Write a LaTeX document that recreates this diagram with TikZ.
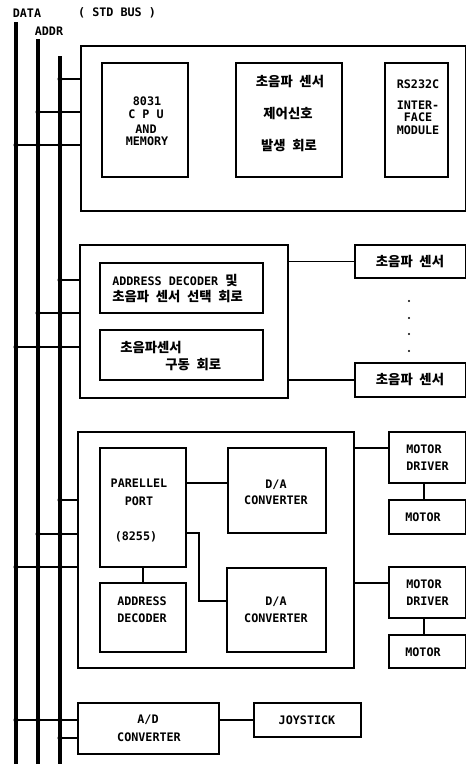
\documentclass[tikz,border=0pt]{standalone}
\usepackage{fontspec}
\setmainfont{DejaVu Sans Mono}
\newfontfamily\kr{Noto Sans CJK KR}[WordSpace=2.2]
\newcommand\Kor[1]{{\kr\bfseries\fontsize{10}{12}\selectfont #1}}
\begin{document}
\begin{tikzpicture}[x=0.75pt,y=-0.75pt,
  box/.style={draw,line width=0.8pt,inner sep=0pt,outer sep=0pt},
  lat/.style={font=\bfseries\fontsize{8.8}{10}\selectfont,inner sep=0pt},
  kor/.style={font=\kr\bfseries\fontsize{10}{12}\selectfont,inner sep=0pt},
  wire/.style={line width=0.8pt},
  tapw/.style={line width=1pt},
  bus/.style={line width=3pt},
  bus3/.style={line width=2.4pt}]
\useasboundingbox[fill=white] (0,0) rectangle (467,764);
\newcommand\mkbox[5]{\node[box,minimum width={(#4-#2)*0.75pt},minimum height={(#5-#3)*0.75pt}] (#1) at ({(#2+#4)/2},{(#3+#5)/2}) {};}

% header
\node[lat] (hdata) at (27,13) {DATA};
\node[lat] (hbus) at (117,13) {( STD BUS )};
\node[lat] (haddr) at (49,31) {ADDR};

% bus lines
\coordinate (dT) at (16,22);  \coordinate (dB) at (16,764);
\coordinate (aT) at (38,39);  \coordinate (aB) at (38,764);
\coordinate (cT) at (60,56);  \coordinate (cB) at (60,764);
\draw[bus] (dT) -- (dB);
\draw[bus] (aT) -- (aB);
\draw[bus3] (cT) -- (cB);

% block 1
\mkbox{b1}{81}{46}{465.5}{211}
\mkbox{cpu}{102}{63}{188}{177}
\mkbox{usc}{236}{63}{342}{177}
\mkbox{rs}{385}{63}{448}{177}
\node[lat] (t8031) at (147,101) {8031};
\node[lat] (tcpu) at (146,114) {C P U};
\node[lat] (tand) at (146,129.5) {AND};
\node[lat] (tmem) at (147,141.5) {MEMORY};
\node[kor] (tus1) at (290,82) {초음파 센서};
\node[kor] (tus2) at (288,114) {제어신호};
\node[kor] (tus3) at (289,146) {발생 회로};
\node[lat] (trs1) at (418,84) {RS232C};
\node[lat] (trs2) at (418,105.5) {INTER-};
\node[lat] (trs3) at (418,117.5) {FACE};
\node[lat] (trs4) at (418,130) {MODULE};

% block 2
\mkbox{b2}{80}{245}{288}{398}
\mkbox{adsel}{100}{263}{263}{313}
\mkbox{drv}{100}{330}{263}{380}
\mkbox{s1}{355}{245}{465.5}{278}
\mkbox{s2}{355}{363}{465.5}{397}
\node[lat,anchor=west] (tads1) at (112,280) {ADDRESS DECODER \Kor{및}};
\node[kor,anchor=west] (tads2) at (112,297) {초음파 센서 선택 회로};
\node[kor,anchor=west] (tdrv1) at (120,348) {초음파센서};
\node[kor,anchor=west] (tdrv2) at (165,365) {구동 회로};
\node[kor] (ts1) at (410,262) {초음파 센서};
\node[kor] (ts2) at (410,380) {초음파 센서};
\draw[wire] (s1.west) -- (s1.west -| b2.east);
\draw[wire] (s2.west) -- (s2.west -| b2.east);
\foreach \yy in {301,318,334,351} \fill (409,\yy) circle (0.9pt);

% block 3
\mkbox{b3}{78}{432}{354}{668}
\mkbox{pp}{100}{448}{186}{567}
\mkbox{da1}{228}{448}{326}{533}
\mkbox{da2}{227}{568}{326}{652}
\mkbox{ad}{100}{583}{186}{652}
\mkbox{md1}{389}{432}{465.5}{483}
\mkbox{m1}{389}{500}{465.5}{534}
\mkbox{md2}{389}{567}{465.5}{618}
\mkbox{m2}{389}{635}{465.5}{668}
\node[lat] (tpp1) at (139,483) {PARELLEL};
\node[lat] (tpp2) at (139,501) {PORT};
\node[lat] (tpp3) at (136,537) {(8255)};
\node[lat] (tda1a) at (276,485) {D/A};
\node[lat] (tda1b) at (276,500) {CONVERTER};
\node[lat] (tda2a) at (276,602) {D/A};
\node[lat] (tda2b) at (276,618) {CONVERTER};
\node[lat] (tad1) at (142,601) {ADDRESS};
\node[lat] (tad2) at (142,618) {DECODER};
\node[lat,anchor=west] (tmd1a) at (406,449) {MOTOR};
\node[lat,anchor=west] (tmd1b) at (406,466) {DRIVER};
\node[lat] (tm1) at (423,517) {MOTOR};
\node[lat,anchor=west] (tmd2a) at (406,584) {MOTOR};
\node[lat,anchor=west] (tmd2b) at (406,601) {DRIVER};
\node[lat] (tm2) at (423,652) {MOTOR};
\coordinate (p1) at (186,483); \draw[wire] (p1) -- (p1 -| da1.west);
\coordinate (p2) at (186,533); \coordinate (p3) at (199,601);
\draw[wire] (p2) -| (p3) -- (p3 -| da2.west);
\draw[wire] (pp.south) -- (ad.north);
\coordinate (q1) at (354,448); \draw[wire] (q1) -- (q1 -| md1.west);
\coordinate (q2) at (354,583); \draw[wire] (q2) -- (q2 -| md2.west);
\coordinate (k1) at (424,483); \draw[wire] (k1) -- (k1 |- m1.north);
\coordinate (k2) at (424,618); \draw[wire] (k2) -- (k2 |- m2.north);

% A/D
\mkbox{adc}{78}{703}{219}{754}
\mkbox{joy}{254}{703}{361}{737}
\node[lat] (tadc1) at (148,720) {A/D};
\node[lat] (tadc2) at (149,737) {CONVERTER};
\node[lat] (tjoy) at (307,720) {JOYSTICK};
\draw[wire] (joy.west) -- (joy.west -| adc.east);

% bus taps
\foreach \n/\x/\y/\b in {1/60/79/b1, 2/38/112/b1, 3/16/145/b1,
                         4/60/280/b2, 5/38/313/b2, 6/16/347/b2,
                         7/60/500/b3, 8/38/534/b3, 9/16/567/b3,
                         10/16/720/adc, 11/60/738/adc}
  {\coordinate (tap\n) at (\x,\y); \draw[tapw] (tap\n) -- (tap\n -| \b.west);}
\foreach \x/\y in {60/79, 38/112, 60/112, 16/145, 38/145, 60/145,
                   60/280, 38/313, 60/313, 16/347, 38/347, 60/347,
                   60/500, 38/534, 60/534, 16/567, 38/567, 60/567,
                   16/720, 38/720, 60/720, 60/738}
  \fill (\x,\y) circle (1.9pt);
\end{tikzpicture}
\end{document}
